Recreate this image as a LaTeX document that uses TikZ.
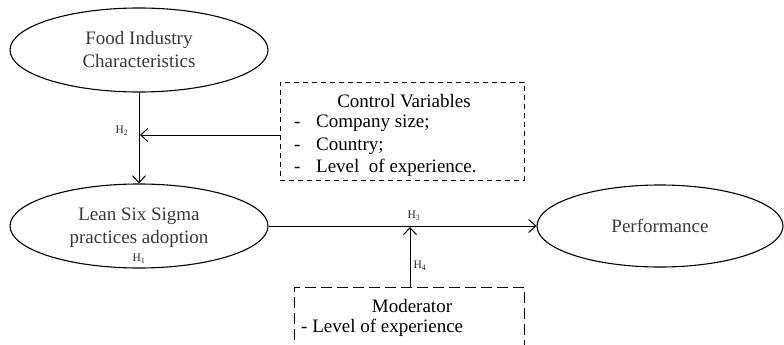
\documentclass[tikz,border=0pt]{standalone}
\usepackage{fontspec}
\setmainfont{Liberation Serif}
\usetikzlibrary{shapes.geometric,arrows.meta}
\begin{document}
\begin{tikzpicture}[x=1pt,y=-1pt,
  construct/.style={ellipse, draw, line width=1.1pt, inner sep=0pt, align=center,
    font=\fontsize{19}{23}\selectfont, text=black!78},
  ctrlbox/.style={draw, dash pattern=on 5pt off 4pt, line width=0.9pt, inner sep=0pt},
  modbox/.style={draw, dash pattern=on 11pt off 5pt, line width=0.9pt, inner sep=0pt},
  link/.style={line width=1pt, -{Straight Barb[length=7pt,width=13pt]}},
  hyp/.style={font=\fontsize{11.5}{13}\selectfont, inner sep=0pt, text=black!85},
  boxtxt/.style={font=\fontsize{19}{22}\selectfont, inner sep=0pt},
]
\useasboundingbox (0,0) rectangle (784,345);
\clip (0,0) rectangle (784,345);

% constructs
\node[construct, minimum width=258pt, minimum height=84pt] (food) at (139,50) {Food Industry\\Characteristics};
\node[construct, minimum width=258pt, minimum height=84pt] (lean) at (139,226) {};
\node[align=center, font=\fontsize{19}{23}\selectfont, text=black!78, inner sep=0pt] (leantxt) at (139,228) {Lean Six Sigma\\practices adoption};
\node[construct, minimum width=246pt, minimum height=82pt] (perf) at (660,226) {Performance};

% control variables box
\node[ctrlbox, minimum width=244pt, minimum height=98pt] (ctrl) at (402,131) {};
\node[boxtxt] (ctitle) at (404,101) {Control Variables};
\node[boxtxt, anchor=west] (c1) at (294,123) {\makebox[22pt][l]{-}Company size;};
\node[boxtxt, anchor=west] (c2) at (294,146) {\makebox[22pt][l]{-}Country;};
\node[boxtxt, anchor=west] (c3) at (294,168) {\makebox[22pt][l]{-}Level\ \ of experience.};

% moderator box
\node[modbox, minimum width=230pt, minimum height=90pt, anchor=north west] (mod) at (294,287) {};
\node[boxtxt] (mtitle) at (412,306) {Moderator};
\node[boxtxt, anchor=west] (m1) at (301,328) {- Level of experience};

% connectors
\coordinate (j2) at (139,135);
\coordinate (j4) at (410,226);
\draw[link] (food) -- (lean);
\draw[link, shorten >=1pt] (ctrl.west |- j2) -- (j2);
\draw[link] (lean) -- (perf);
\draw[link, shorten >=1pt] (mod.north -| j4) -- (j4);

% hypothesis labels
\node[hyp] (h1) at (139,259) {H\textsubscript{1}};
\node[hyp] (h2) at (122,131) {H\textsubscript{2}};
\node[hyp] (h3) at (414,216) {H\textsubscript{3}};
\node[hyp] (h4) at (420,266) {H\textsubscript{4}};
\end{tikzpicture}
\end{document}
